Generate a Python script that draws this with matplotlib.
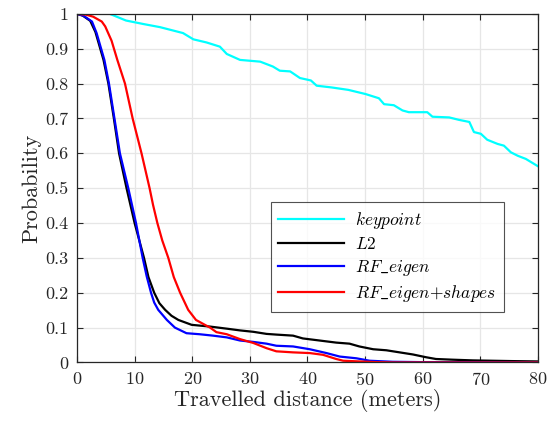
import matplotlib
matplotlib.use("Agg")
import matplotlib.pyplot as plt

# keypoint (cyan)
kp_x = [0, 5.7, 8.5, 11.5, 14.4, 18.4, 20.2, 22.5, 24.8, 26.0, 28.3, 31.8, 34.0, 35.2, 37.0,
        38.7, 40.6, 41.6, 44.2, 47.1, 50.1, 52.4, 53.3, 55.0, 56.5, 57.6, 60.8, 61.7, 64.6,
        66.3, 68.1, 68.9, 70.1, 71.2, 73.0, 74.1, 75.3, 76.5, 77.9, 80.0]
kp_y = [1.0, 1.0, 0.981, 0.971, 0.962, 0.945, 0.927, 0.918, 0.906, 0.885, 0.868, 0.863, 0.849,
        0.837, 0.835, 0.816, 0.809, 0.794, 0.789, 0.782, 0.770, 0.758, 0.741, 0.738, 0.723,
        0.718, 0.718, 0.705, 0.703, 0.696, 0.690, 0.661, 0.656, 0.639, 0.627, 0.622, 0.603,
        0.593, 0.584, 0.563]

# L2 (black)
l2_x = [0, 1.0, 2.3, 3.2, 4.6, 5.45, 6.4, 7.3, 8.6, 10.0, 11.63, 12.4, 13.4, 14.3, 15.3,
        16.4, 17.6, 19.9, 23.1, 26.0, 28.3, 30.6, 32.9, 34.6, 37.5, 39.2, 42.1, 45.0, 47.3,
        49.0, 51.4, 53.7, 56.0, 58.3, 60.6, 62.3, 65.2, 68.7, 72.1, 75.5, 80.0]
l2_y = [1.0, 0.995, 0.98, 0.948, 0.868, 0.8, 0.7, 0.6, 0.5, 0.4, 0.3, 0.245, 0.2, 0.17,
        0.151, 0.134, 0.122, 0.108, 0.103, 0.097, 0.092, 0.088, 0.082, 0.080, 0.077,
        0.069, 0.063, 0.057, 0.054, 0.046, 0.038, 0.035, 0.029, 0.023, 0.015, 0.010, 0.008,
        0.006, 0.005, 0.004, 0.003]

# RF_eigen (blue)
rf_x = [0, 1.1, 2.6, 3.4, 4.75, 5.55, 6.5, 7.45, 8.9, 10.24, 11.4, 12.1, 12.85, 13.4, 14.1,
        15.6, 17.0, 19.0, 21.3, 23.6, 26.0, 28.3, 30.6, 32.9, 34.6, 37.5, 40.4, 43.3, 45.6,
        48.5, 50.8, 54.8, 60.0, 68.0, 80.0]
rf_y = [1.0, 0.995, 0.978, 0.945, 0.868, 0.8, 0.7, 0.6, 0.5, 0.4, 0.3, 0.247, 0.2, 0.172,
        0.151, 0.122, 0.1, 0.084, 0.081, 0.077, 0.072, 0.063, 0.059, 0.054,
        0.048, 0.046, 0.038, 0.027, 0.017, 0.012, 0.005, 0.002, 0.001, 0.001, 0.0]

# RF_eigen+shapes (red)
rs_x = [0, 1.5, 2.8, 4.3, 4.9, 6.0, 7.0, 8.33, 9.66, 11.2, 12.6, 13.2, 13.95, 14.8, 15.85,
        16.8, 17.9, 19.3, 20.65, 22.2, 23.1, 24.2, 26.0, 28.3, 30.6, 32.9, 34.6, 37.5, 40.4,
        42.7, 45.0, 46.2, 49.0, 51.9, 55.0, 80.0]
rs_y = [1.0, 0.998, 0.992, 0.978, 0.964, 0.923, 0.868, 0.8, 0.7, 0.6, 0.5, 0.452, 0.4, 0.35,
        0.3, 0.245, 0.2, 0.151, 0.122, 0.108, 0.1, 0.087, 0.081, 0.067, 0.056,
        0.041, 0.032, 0.029, 0.027, 0.022, 0.010, 0.005, 0.003, 0.001, 0.0, 0.0]

labels = [r'$keypoint$', r'$L2$', r'$RF\_eigen$', r'$RF\_eigen{+}shapes$']
colors = ['#00FFFF', '#000000', '#0000FF', '#FF0000']

plt.rcParams['font.family'] = 'serif'
plt.rcParams['font.serif'] = ['cmr10', 'DejaVu Serif']
plt.rcParams['mathtext.fontset'] = 'cm'
plt.rcParams['axes.formatter.use_mathtext'] = True

fig = plt.figure(figsize=(5.5, 4.21), dpi=100)
ax = fig.add_axes([0.14, 0.139, 0.838, 0.828])

for xs, ys, lab, c in zip([kp_x, l2_x, rf_x, rs_x], [kp_y, l2_y, rf_y, rs_y], labels, colors):
    ax.plot(xs, ys, color=c, lw=1.6, label=lab)

ax.set_xlim(0, 80)
ax.set_ylim(0, 1)
ax.set_xticks(range(0, 81, 10))
ax.set_yticks([i / 10 for i in range(11)])
ax.set_yticklabels(['0', '0.1', '0.2', '0.3', '0.4', '0.5', '0.6', '0.7', '0.8', '0.9', '1'])
ax.grid(True, color='#e6e6e6', lw=0.9)
ax.set_axisbelow(True)
axc = '#262626'
for s in ax.spines.values():
    s.set_color(axc)
    s.set_linewidth(0.9)
ax.tick_params(direction='in', top=True, right=True, length=4, width=0.8, colors=axc,
               labelsize=13, pad=6)
ax.set_xlabel('Travelled distance (meters)', fontsize=16, color=axc, labelpad=1)
ax.set_ylabel('Probability', fontsize=16, color=axc, labelpad=3)

leg = ax.legend(loc='upper left', bbox_to_anchor=(0.42, 0.459), fontsize=12.5, frameon=True,
                fancybox=False, edgecolor=axc, handlelength=3.8, handletextpad=0.6,
                borderpad=0.45, labelspacing=0.3, borderaxespad=0)
leg.get_frame().set_linewidth(0.8)

fig.savefig('out.png', dpi=100)
